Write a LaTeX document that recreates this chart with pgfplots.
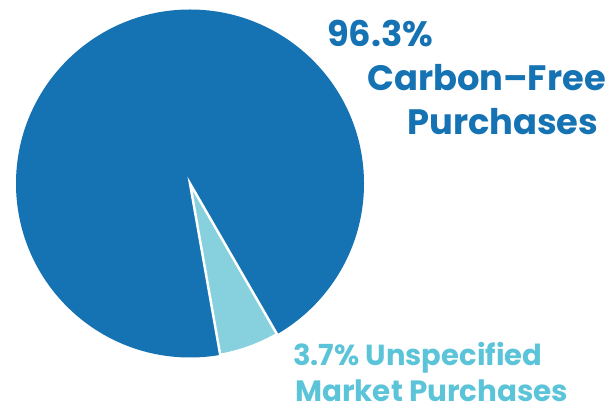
\documentclass[border=0pt]{standalone}
\usepackage{fontspec}
\setmainfont{Poppins}
\usepackage{pgfplots}
\pgfplotsset{compat=1.18}

\definecolor{cfblue}{HTML}{1572B3}
\definecolor{unspec}{HTML}{86D1DD}
\definecolor{unspectext}{HTML}{5CC4D8}

\begin{document}
\begin{tikzpicture}
\begin{axis}[
  scale only axis, width=608pt, height=406pt,
  xmin=0, xmax=608, ymin=0, ymax=406,
  hide axis, clip=false
]
% pie: 96.3% carbon-free, 3.7% unspecified (slice drawn from -80 to -60 deg as in the original)
\fill[cfblue] (axis cs:190,222.5) circle[radius=174pt];
\filldraw[fill=unspec, draw=white, line width=2.5pt, line join=miter]
  (axis cs:190,222.5) -- ++(-80:174pt) arc[start angle=-80, end angle=-60, radius=174pt] -- cycle;

% labels
\node[anchor=base west, inner sep=0, text=cfblue, font=\bfseries\fontsize{35.3}{36}\selectfont]
  at (axis cs:327,359) {96.3\%};
\node[anchor=base west, inner sep=0, text=cfblue, font=\bfseries\fontsize{35.3}{36}\selectfont]
  at (axis cs:367,315) {Carbon–Free};
\node[anchor=base west, inner sep=0, text=cfblue, font=\bfseries\fontsize{35.3}{36}\selectfont]
  at (axis cs:407,271) {Purchases};
\node[anchor=base west, inner sep=0, text=unspectext, font=\bfseries\fontsize{29}{29}\selectfont]
  at (axis cs:293,40) {3.7\% Unspecified};
\node[anchor=base west, inner sep=0, text=unspectext, font=\bfseries\fontsize{29.4}{29}\selectfont]
  at (axis cs:295,4.5) {Market Purchases};
\end{axis}
\pgfresetboundingbox
\useasboundingbox (0,0) rectangle (608pt,406pt);
\end{tikzpicture}
\end{document}
